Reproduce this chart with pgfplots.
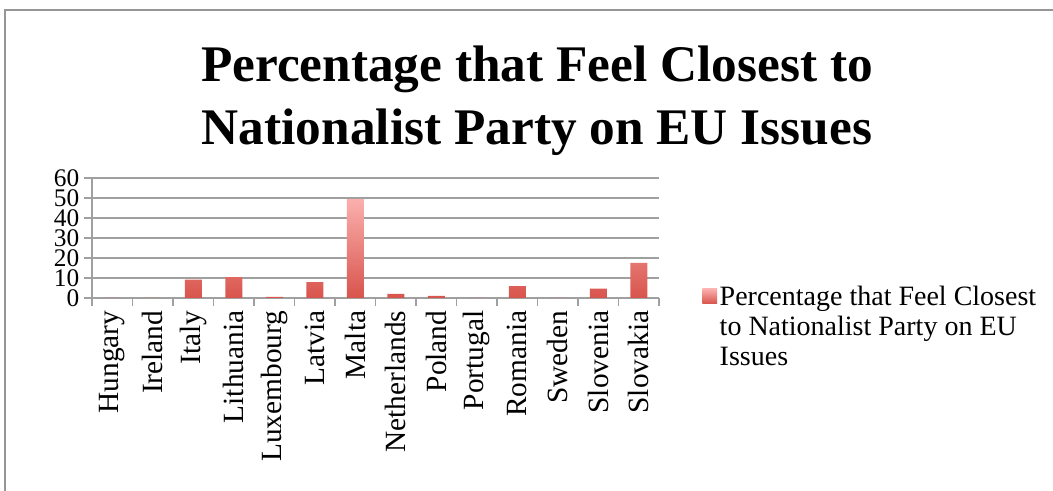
\documentclass[border=0pt]{standalone}
\usepackage{pgfplots}
\pgfplotsset{compat=1.18}
\usepackage{fontspec}
\setmainfont{Liberation Serif}
\definecolor{gridgray}{RGB}{160,160,160}
\definecolor{bartop}{RGB}{251,176,174}
\definecolor{barbot}{RGB}{216,84,76}
\definecolor{framegray}{RGB}{150,150,150}
\begin{document}
\begin{tikzpicture}
\useasboundingbox (0,0) rectangle (789.75pt,-368.25pt);
\draw[framegray, line width=1.2pt] (3.75pt,-368.25pt) -- (3.75pt,-7.5pt) -- (789.75pt,-7.5pt);
\node[font=\fontsize{38.5}{47}\selectfont\bfseries, align=center] at (402.75pt,-75.5pt) {Percentage that Feel Closest to\\Nationalist Party on EU Issues};
\begin{axis}[
  at={(69pt,-223.5pt)}, anchor=south west,
  scale only axis, width=425.25pt, height=90pt,
  ybar, bar width=12.75pt,
  xmin=-0.5, xmax=13.5, ymin=0, ymax=60,
  axis x line*=bottom, axis y line*=left,
  axis line style={gridgray, line width=1.2pt},
  xtick={0,...,13},
  xticklabels={Hungary,Ireland,Italy,Lithuania,Luxembourg,Latvia,Malta,Netherlands,Poland,Portugal,Romania,Sweden,Slovenia,Slovakia},
  major x tick style={draw=none},
  minor xtick={-0.5,0.5,...,13.5},
  minor x tick style={gridgray, line width=1.2pt},
  minor tick length=6pt,
  tick align=outside,
  ytick={0,10,...,60},
  major y tick style={gridgray, line width=1.2pt},
  major tick length=6pt,
  ymajorgrids, grid style={gridgray, line width=1.2pt},
  xticklabel style={rotate=90, anchor=east, font=\fontsize{22}{22}\selectfont},
  yticklabel style={font=\fontsize{19}{19}\selectfont, inner ysep=0pt},
  /pgf/number format/assume math mode=true,
  legend style={at={(1.069,0.15)}, anchor=north west, draw=none, fill=none,
    font=\fontsize{21}{22.5}\selectfont, cells={align=left}},
  legend image code/.code={\shade[top color=bartop,bottom color=barbot] (0pt,17pt) rectangle (11pt,28pt);},
]
\addplot[draw=none, top color=bartop, bottom color=barbot] coordinates {
(0,0) (1,0) (2,9.2) (3,10.5) (4,0.5) (5,8.0) (6,49.5) (7,2.0) (8,1.0) (9,0) (10,6.0) (11,0) (12,4.7) (13,17.6)};
\addlegendentry{Percentage that Feel Closest\\to Nationalist Party on EU\\Issues}
\end{axis}
\end{tikzpicture}
\end{document}
